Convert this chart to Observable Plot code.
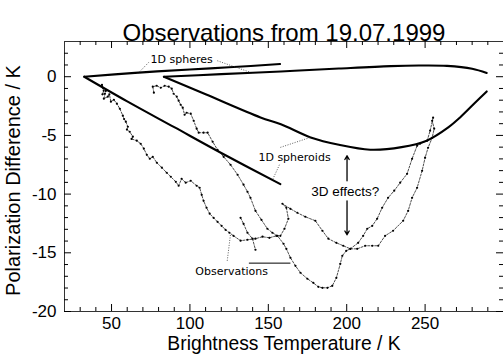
<!DOCTYPE html>
<html>
<head>
<meta charset="utf-8">
<script src="https://cdn.jsdelivr.net/npm/d3@7"></script>
<script src="https://cdn.jsdelivr.net/npm/@observablehq/plot@0.6"></script>
<style>
  html, body { margin: 0; padding: 0; background: #fff; }
  #chart svg { display: block; font-family: "Liberation Sans", Arial, sans-serif; }
</style>
</head>
<body>
<div id="chart"></div>
<script>
// ---------- data (Brightness temperature K, polarization difference K) ----------
const sphereA_T = [32.6, 65, 100, 125, 157.5];
const sphereA_P = [0, 0.33, 0.62, 0.8, 1.08];
const sphereB_T = [83.4, 120, 158, 195, 228, 246, 264, 280, 289.3];
const sphereB_P = [0, 0.22, 0.45, 0.7, 0.9, 0.95, 0.92, 0.68, 0.32];
const spheroidA_T = [32.6, 60, 90, 120, 157.7];
const spheroidA_P = [0, -2.1, -4.3, -6.5, -9.15];
const spheroidB_T = [83.4, 110, 145, 158, 177, 195, 215, 235, 251, 265, 272.3, 282, 289.3];
const spheroidB_P = [0, -1.5, -3.47, -4.05, -5.17, -5.8, -6.22, -6.0, -5.45, -4.3, -3.47, -2.2, -1.25];

const obsA = [
  [44.5,-0.94],[43.9,-0.7],[45.0,-1.2],[44.2,-1.5],[45.7,-1.45],[46.4,-1.2],[45.1,-1.87],[47.6,-1.70],
  [48.6,-1.5],[49.6,-2.13],[51.5,-1.96],[53.4,-2.30],[55.3,-2.73],[57.2,-3.32],[58.0,-3.6],[59.1,-3.83],
  [60.4,-4.26],[59.8,-4.5],[61.6,-4.69],[63.6,-5.11],[62.8,-5.3],[66.1,-5.45],[68.6,-5.71],[70.6,-6.13],
  [72.5,-6.65],[74.4,-6.99],[76.3,-6.82],[78.9,-7.33],[82.1,-7.75],[85.2,-8.18],[87.8,-8.52],[91.0,-8.95],
  [92.8,-9.29],[94.7,-8.69],[97.3,-9.03],[100.5,-8.86],[104.3,-9.29],[106.2,-9.46],[107.5,-10.06],[108.7,-10.57],
  [110.6,-11.16],[112.6,-11.67],[115.1,-12.02],[117.6,-12.36],[120.2,-12.70],[122.7,-13.04],[125.2,-13.29],[127.8,-13.55],
  [132.3,-13.97],[136.7,-13.89],[141.8,-13.80],[146.3,-13.63],[150.7,-13.72],[155.2,-13.55],[157.7,-13.55],[160.3,-12.95],
  [162.8,-12.10],[161.5,-11.16],[159.0,-10.82],[164.1,-11.25],[168.5,-11.59],[173.6,-11.93],[180.0,-12.27],[184.5,-13.12],
  [188.3,-13.80],[193.4,-14.15],[197.8,-14.40],[202.3,-14.66],[207.3,-14.15],[210.5,-13.55],[213.1,-12.95],[216.3,-12.70],
  [219.4,-12.10],[222.6,-11.16],[226.4,-10.31],[230.3,-9.71],[234.1,-9.03],[238.5,-8.27],[241.7,-6.99],[244.9,-5.88],
  [246.8,-5.71],[251.3,-5.45],[253.2,-4.60],[255.1,-3.49]
];
const obsB = [
  [77.0,-1.36],[76.3,-0.85],[78.8,-0.77],[81.4,-0.94],[83.9,-0.77],[86.5,-0.85],[88.4,-1.02],[89.6,-1.45],
  [91.6,-1.70],[92.8,-2.04],[94.1,-2.39],[95.4,-2.64],[96.6,-3.24],[97.9,-3.07],[100.5,-3.15],[102.4,-3.75],
  [104.3,-4.43],[105.6,-4.77],[108.7,-4.77],[111.3,-4.77],[114.5,-5.54],[117.6,-6.22],[121.5,-6.82],[125.9,-7.50],
  [130.4,-8.35],[134.2,-9.20],[136.7,-9.80],[138.6,-10.31],[141.8,-11.42],[145.6,-12.19],[149.4,-12.95],[152.6,-13.29],
  [155.8,-13.55],[159.7,-14.23],[161.5,-14.66],[164.1,-15.42],[167.3,-16.11],[170.5,-16.70],[174.9,-17.21],[178.7,-17.56],
  [181.9,-17.90],[184.5,-17.98],[187.7,-17.98],[190.8,-17.81],[193.4,-17.13],[195.9,-15.94],[197.2,-15.25],[199.7,-14.83],
  [202.3,-14.66],[206.7,-14.66],[211.8,-14.40],[216.3,-14.40],[220.1,-14.40],[224.5,-13.55],[229.6,-13.12],[236.0,-12.27],
  [239.2,-11.42],[241.7,-10.31],[244.9,-9.46],[248.1,-8.01],[250.0,-6.90],[251.9,-6.05],[254.5,-5.20],[255.8,-4.43],[254.5,-3.75]
];
const obsC = [[132.3,-12.02],[134.2,-12.53],[136.7,-13.29],[139.9,-13.80],[141.8,-14.74]];

// ---------- ticks ----------
const xMajorTicks = [50, 100, 150, 200, 250];
const xMinorTicks = [30, 40, 60, 70, 80, 90, 110, 120, 130, 140, 160, 170, 180, 190, 210, 220, 230, 240, 260, 270, 280, 290];
const yMajorTicks = [0, -5, -10, -15, -20];
const yMinorTicks = [2, 1, -1, -2, -3, -4, -6, -7, -8, -9, -11, -12, -13, -14, -16, -17, -18, -19];
const xTickLabels = ["50", "100", "150", "200", "250"];
const yTickLabels = ["0", "-5", "-10", "-15", "-20"];

// ---------- texts & annotations ----------
const titleText = "Observations from 19.07.1999";
const xLabel = "Brightness Temperature / K";
const yLabel = "Polarization Difference / K";
const annLabels = ["1D spheres", "1D spheroids", "Observations"];
const annT = [94.7, 166.7, 126.6];
const annP = [1.45, -6.9, -16.57];
const effLabel = ["3D effects?"];
const effT = [199.0];
const effP = [-9.8];
const leadersDotted = [
  [73.7, 1.22, 66.5, 0.23],
  [117.5, 1.36, 138.6, 0.37],
  [157.7, -6.02, 176.8, -5.17],
  [157.1, -7.5, 152.7, -8.78],
  [123.8, -15.68, 125.9, -13.4]
];
const leadersSolid = [[137.6, -15.88, 164.1, -15.88]];
const arrows3D = [[200.2, -8.86, 200.2, -6.73], [200.2, -10.57, 200.2, -13.46]];

// ---------- build ----------
const zipTP = (T, P) => T.map((t, i) => ({T: t, P: P[i]}));
const W = 503, H = 358, mL = 64, mR = 0, mT = 41, mB = 47;
const fw = W - mL - mR, fh = H - mT - mB;
const curveStyle = {x: "T", y: "P", stroke: "#000", strokeWidth: 2.1, curve: "catmull-rom"};
const obsLine = {x: d => d[0], y: d => d[1], stroke: "#000", strokeWidth: 0.7, strokeDasharray: "2,1.5"};
const obsDot = {x: d => d[0], y: d => d[1], r: 1.1, fill: "#000", stroke: "none"};

const chart = Plot.plot({
  width: W, height: H,
  marginLeft: mL, marginRight: mR, marginTop: mT, marginBottom: mB,
  x: {domain: [20, 300], axis: null},
  y: {domain: [-20, 3], axis: null},
  marks: [
    Plot.frame({stroke: "#333", strokeWidth: 1}),
    // ticks (inward, all four sides)
    Plot.tickX(xMajorTicks, {x: d => d, insetTop: fh - 7, stroke: "#000"}),
    Plot.tickX(xMajorTicks, {x: d => d, insetBottom: fh - 7, stroke: "#000"}),
    Plot.tickX(xMinorTicks, {x: d => d, insetTop: fh - 4, stroke: "#000"}),
    Plot.tickX(xMinorTicks, {x: d => d, insetBottom: fh - 4, stroke: "#000"}),
    Plot.tickY(yMajorTicks, {y: d => d, insetRight: fw - 7, stroke: "#000"}),
    Plot.tickY(yMajorTicks, {y: d => d, insetLeft: fw - 7, stroke: "#000"}),
    Plot.tickY(yMinorTicks, {y: d => d, insetRight: fw - 4, stroke: "#000"}),
    Plot.tickY(yMinorTicks, {y: d => d, insetLeft: fw - 4, stroke: "#000"}),
    // tick labels
    Plot.text(xMajorTicks, {x: d => d, text: (d, i) => xTickLabels[i], frameAnchor: "bottom", dy: 17.5, fontSize: 17, fill: "#000"}),
    Plot.text(yMajorTicks, {y: d => d, text: (d, i) => yTickLabels[i], frameAnchor: "left", dx: -8, textAnchor: "end", fontSize: 17, fill: "#000"}),
    // axis labels & title
    Plot.text([xLabel], {frameAnchor: "bottom", dy: 38, fontSize: 19.3, fill: "#000"}),
    Plot.text([yLabel], {frameAnchor: "left", textAnchor: "middle", dx: -51, dy: 4, rotate: -90, fontSize: 20, fill: "#000"}),
    Plot.text([titleText], {frameAnchor: "top", dy: -17.5, fontSize: 24, fill: "#000"}),
    // model curves
    Plot.line(zipTP(sphereA_T, sphereA_P), curveStyle),
    Plot.line(zipTP(sphereB_T, sphereB_P), curveStyle),
    Plot.line(zipTP(spheroidA_T, spheroidA_P), curveStyle),
    Plot.line(zipTP(spheroidB_T, spheroidB_P), curveStyle),
    // observations
    Plot.line(obsA, obsLine), Plot.dot(obsA, obsDot),
    Plot.line(obsB, obsLine), Plot.dot(obsB, obsDot),
    Plot.line(obsC, obsLine), Plot.dot(obsC, obsDot),
    // annotations
    Plot.link(leadersDotted, {x1: d => d[0], y1: d => d[1], x2: d => d[2], y2: d => d[3], stroke: "#333", strokeWidth: 0.8, strokeDasharray: "1,1.5"}),
    Plot.link(leadersSolid, {x1: d => d[0], y1: d => d[1], x2: d => d[2], y2: d => d[3], stroke: "#000", strokeWidth: 1}),
    Plot.arrow(arrows3D, {x1: d => d[0], y1: d => d[1], x2: d => d[2], y2: d => d[3], stroke: "#000", strokeWidth: 1.3, headLength: 5}),
    Plot.text(annLabels, {x: (d, i) => annT[i], y: (d, i) => annP[i], text: d => d, fontSize: 11, fontFamily: "DejaVu Sans", fill: "#000"}),
    Plot.text(effLabel, {x: (d, i) => effT[i], y: (d, i) => effP[i], text: d => d, fontSize: 13.5, fill: "#000"})
  ]
});
document.getElementById("chart").appendChild(chart);
</script>
</body>
</html>
